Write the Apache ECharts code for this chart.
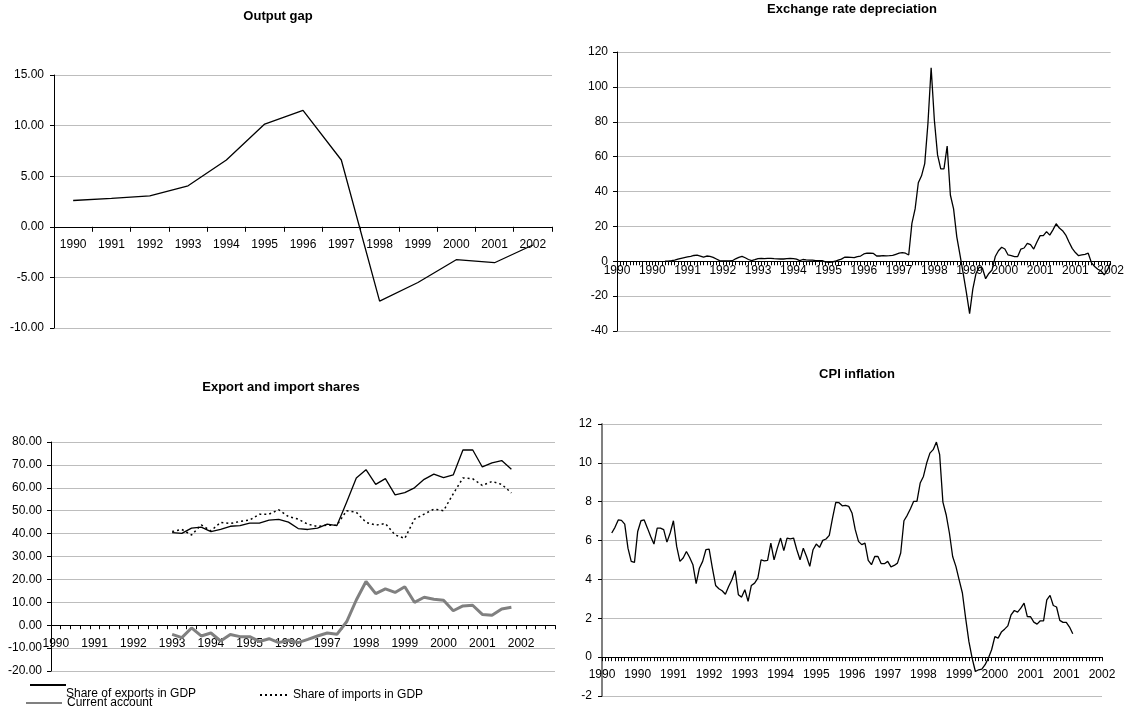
<!DOCTYPE html>
<html lang="en">
<head>
  <meta charset="UTF-8">
  <title>Output gap, exchange rate, trade shares, CPI inflation</title>
  <script src="https://cdn.jsdelivr.net/npm/echarts@6.0.0/dist/echarts.min.js"></script>
  <style>
    html, body { margin: 0; padding: 0; background: #fff; }
    #chart { width: 1127px; height: 717px; }
  </style>
</head>
<body>
<div id="chart"></div>
<script>
  // ---- values ----
  const years = ['1990', '1991', '1992', '1993', '1994', '1995', '1996',
                 '1997', '1998', '1999', '2000', '2001', '2002'];
  const monthCount = 155;   // Jan 1990 .. Nov 2002
  const quarterNames = ['Q1', 'Q2', 'Q3', 'Q4'];

  // Output gap, annual
  const outputGap = [2.6, 2.8, 3.05, 4.05, 6.6, 10.15, 11.5, 6.6, -7.35, -5.5, -3.25, -3.55, -1.8];

  // Exchange rate depreciation, monthly, first value at month index 15
  const erStart = 15;
  const exchangeRate = [
    0, 0.1, 0.3, 0.7, 1.2, 1.7, 2.1, 2.5, 2.8, 3.3,
    3.5, 3.0, 2.4, 3.0, 2.8, 2.2, 1.3, 0.4, 0.2, 0.2,
    0.2, 0.3, 1.4, 2.2, 2.8, 2.0, 1.0, 0.4, 0.9, 1.5,
    1.7, 1.5, 1.6, 1.7, 1.5, 1.4, 1.3, 1.3, 1.5, 1.7,
    1.5, 1.2, 0.4, 1.0, 0.8, 0.7, 0.6, 0.4, 0.4, 0.4,
    -0.4, -0.6, -0.5, 0.0, 0.6, 1.2, 2.3, 2.3, 2.2, 2.1,
    2.7, 3.0, 4.2, 4.6, 4.6, 4.5, 3.0, 3.0, 3.2, 3.1,
    3.2, 3.4, 4.0, 4.6, 5.0, 4.6, 3.6, 21.7, 30, 45,
    49, 56, 79, 111, 81, 61, 53, 53, 66, 38,
    30, 14, 3.6, -7, -18, -30, -16, -7, -3.4, -4,
    -10, -7, -5, 2.7, 6, 8, 7, 3.6, 3.2, 2.7,
    2.7, 7, 7.6, 10.3, 9.5, 7, 11, 14.7, 14.7, 17,
    15, 18, 21.5, 19, 17.5, 15, 11, 7.4, 5, 3.2,
    3.6, 4, 4.6, -0.8, -3, -4.6, -5.5, -7.8, -5, -0.8
  ];

  // CPI inflation, monthly, first value at month index 3
  const cpiStart = 3;
  const cpiInflation = [
    6.39, 6.68, 7.06, 7.04, 6.85, 5.61, 4.93, 4.88, 6.47, 7.02,
    7.06, 6.64, 6.21, 5.82, 6.64, 6.64, 6.56, 5.92, 6.39, 7.02,
    5.70, 4.93, 5.10, 5.44, 5.13, 4.76, 3.78, 4.58, 4.93, 5.53,
    5.56, 4.58, 3.69, 3.52, 3.42, 3.24, 3.64, 3.98, 4.45, 3.21,
    3.09, 3.47, 2.87, 3.69, 3.81, 4.07, 5.01, 4.96, 4.98, 5.87,
    5.01, 5.61, 6.13, 5.48, 6.13, 6.09, 6.13, 5.53, 5.01, 5.61,
    5.18, 4.67, 5.53, 5.82, 5.65, 6.01, 6.08, 6.27, 7.16, 7.97,
    7.95, 7.79, 7.81, 7.76, 7.42, 6.56, 5.96, 5.79, 5.87, 4.98,
    4.76, 5.18, 5.18, 4.81, 4.81, 4.93, 4.65, 4.72, 4.84, 5.36,
    7.02, 7.30, 7.64, 8.02, 8.02, 8.96, 9.30, 9.99, 10.5, 10.68,
    11.07, 10.42, 7.98, 7.33, 6.39, 5.18, 4.67, 3.98, 3.30, 2.01,
    0.81, -0.05, -0.74, -0.65, -0.62, -0.39, -0.05, 0.38, 1.06, 0.98,
    1.29, 1.44, 1.61, 2.18, 2.40, 2.32, 2.52, 2.78, 2.09, 2.08,
    1.80, 1.70, 1.87, 1.87, 2.95, 3.18, 2.66, 2.58, 1.89, 1.79,
    1.79, 1.55, 1.20
  ];

  // Export and import shares, quarterly from 1993Q1 (quarter index 12)
  const tradeStart = 12;
  const exportShare = [40.4, 40.1, 42.4, 42.8, 40.9, 41.8, 43.2, 43.5, 44.6, 44.6, 45.9, 46.2,
                       45.0, 42.2, 41.8, 42.4, 44.1, 43.5, 53.7, 64.3, 67.9, 61.5, 64.0, 56.9,
                       57.9, 60.0, 63.7, 66.0, 64.4, 65.6, 76.5, 76.6, 69.1, 70.9, 71.9, 68.1];
  const importShare = [40.9, 41.8, 39.4, 43.8, 41.2, 44.9, 44.4, 45.3, 45.9, 48.5, 48.5, 50.4,
                       47.4, 46.3, 44.1, 43.1, 43.7, 43.7, 50.0, 49.3, 44.9, 43.7, 44.4, 39.4,
                       37.9, 46.3, 48.5, 50.7, 50.0, 57.4, 64.3, 64.0, 61.0, 62.8, 61.5, 57.8];
  const currentAccount = [-4.0, -5.4, -1.2, -4.7, -3.4, -6.9, -4.1, -5.0, -5.0, -7.1, -5.9, -7.6,
                          -6.6, -7.6, -6.2, -4.7, -3.4, -4.0, 1.5, 11.0, 19.1, 13.8, 15.9, 14.3,
                          16.8, 10.0, 12.2, 11.3, 10.9, 6.3, 8.4, 8.7, 4.7, 4.3, 7.1, 7.8];

  // y axis ranges [min, max, step]
  const outputAxis = [-10, 15, 5];
  const erAxis = [-40, 120, 20];
  const tradeAxis = [-20, 80, 10];
  const cpiAxis = [-2, 12, 2];

  // ---- categories ----
  const months = [];
  years.forEach(y => {
    for (let m = 1; m <= 12; m++) {
      if (months.length < monthCount) months.push(y + '-' + String(m).padStart(2, '0'));
    }
  });
  const quarters = [];
  years.forEach(y => quarterNames.forEach(q => quarters.push(y + q)));

  // place a run of values at its first category
  function pad(values, start, total) {
    const out = new Array(total).fill(null);
    values.forEach((v, i) => { out[start + i] = v; });
    return out;
  }

  const font = '"Liberation Sans", Arial, sans-serif';
  const yearOnly = v => v.slice(0, 4);

  const grids = [
    { left: 54, top: 75, width: 498, height: 253 },
    { left: 617, top: 52, width: 494, height: 279 },
    { left: 51, top: 442, width: 504, height: 229 },
    { left: 602, top: 424, width: 500, height: 272 }
  ];

  // the category axis sits at y = 0: lift it from the grid bottom by that much
  function zeroOffset(grid, range) {
    return -grid.height * (0 - range[0]) / (range[1] - range[0]);
  }

  function catAxis(gridIndex, data, gap, labelEvery, margin, tickLen, range) {
    return {
      type: 'category', gridIndex, data, boundaryGap: gap,
      position: 'bottom', offset: zeroOffset(grids[gridIndex], range),
      axisLine: { show: true, onZero: false, lineStyle: { color: '#000', width: 1 } },
      axisTick: { show: true, interval: 0, length: tickLen, lineStyle: { color: '#000' } },
      axisLabel: { interval: labelEvery, margin, fontSize: 12, color: '#000', fontFamily: font,
                   formatter: yearOnly, hideOverlap: false },
      splitLine: { show: false }
    };
  }

  function valAxis(gridIndex, range, decimals, margin, lineColor, lineWidth) {
    return {
      type: 'value', gridIndex, min: range[0], max: range[1], interval: range[2],
      axisLine: { show: true, onZero: false, lineStyle: { color: lineColor, width: lineWidth } },
      axisTick: { show: true, length: 4, lineStyle: { color: '#000' } },
      axisLabel: { margin, fontSize: 12, color: '#000', fontFamily: font,
                   formatter: v => v.toFixed(decimals) },
      splitLine: { show: true, lineStyle: { color: '#bdbdbd', width: 1 } }
    };
  }

  function lineSeries(name, x, data, color, width, type) {
    return {
      name, type: 'line', xAxisIndex: x, yAxisIndex: x, data,
      symbol: 'none', showSymbol: false, connectNulls: false,
      lineStyle: { color, width, type: type || 'solid' },
      itemStyle: { color }, emphasis: { disabled: true }
    };
  }

  function plainText(text, x, y, bold, align) {
    return { type: 'text', x, y, silent: true,
             style: { text, fill: '#000', font: (bold ? 'bold 13px ' : '12px ') + font,
                      align: align || 'center', verticalAlign: 'middle' } };
  }

  // one legend per entry, as the entries are scattered under the plot
  function legendItem(name, left, top, width, showText) {
    return {
      data: [name], left, top, padding: 0, itemWidth: width, itemHeight: 12,
      selectedMode: false,
      itemStyle: { opacity: 0, color: 'transparent', borderWidth: 0 },
      formatter: n => (showText ? n : ''),
      textStyle: { fontSize: 12, color: '#000', fontFamily: font }
    };
  }

  const chart = echarts.init(document.getElementById('chart'), null, { renderer: 'canvas' });
  chart.setOption({
    animation: false,
    textStyle: { fontFamily: font },
    grid: grids,
    xAxis: [
      catAxis(0, years, true, 0, 12, 5, outputAxis),
      catAxis(1, months, false, 10, 3, 4, erAxis),
      catAxis(2, quarters, true, 3, 12, 4, tradeAxis),
      catAxis(3, months, false, 10, 12, 4, cpiAxis)
    ],
    yAxis: [
      valAxis(0, outputAxis, 2, 10, '#000', 1),
      valAxis(1, erAxis, 0, 9, '#000', 1),
      valAxis(2, tradeAxis, 2, 9, '#000', 1),
      valAxis(3, cpiAxis, 0, 10, '#808080', 2)
    ],
    legend: [
      // the exports key line sits above its text in the reference
      legendItem('Share of exports in GDP', 29, 679, 36, false),
      legendItem('Share of imports in GDP', 259, 689, 28, true),
      legendItem('Current account', 25, 697, 36, true)
    ],
    series: [
      lineSeries('Output gap', 0, outputGap, '#000', 1.3),
      lineSeries('Exchange rate depreciation', 1, pad(exchangeRate, erStart, monthCount), '#000', 1.3),
      lineSeries('Share of exports in GDP', 2, pad(exportShare, tradeStart, quarters.length), '#000', 1.3),
      lineSeries('Share of imports in GDP', 2, pad(importShare, tradeStart, quarters.length), '#000', 1.5, [2, 3]),
      lineSeries('Current account', 2, pad(currentAccount, tradeStart, quarters.length), '#808080', 3),
      lineSeries('CPI inflation', 3, pad(cpiInflation, cpiStart, monthCount), '#000', 1.3)
    ],
    graphic: [
      plainText('Output gap', 278, 16, true),
      plainText('Exchange rate depreciation', 852, 9, true),
      plainText('Export and import shares', 281, 387, true),
      plainText('CPI inflation', 857, 374, true),
      plainText('Share of exports in GDP', 66, 694, false, 'left')
    ]
  });
</script>
</body>
</html>
